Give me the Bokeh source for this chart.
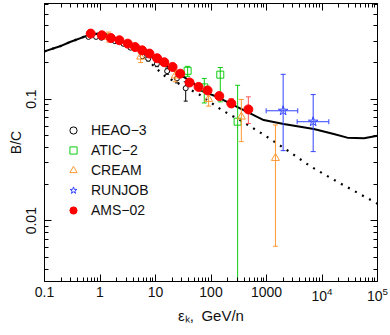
from bokeh.plotting import figure
from bokeh.models import (Range1d, LogAxis, FixedTicker, LogTickFormatter, Legend,
                          LegendItem, CustomJSTickFormatter)
from bokeh.embed import file_html
from bokeh.resources import INLINE

FONT = "Liberation Sans"

# ---- data ----
x_ticks = [0.1, 1, 10, 100, 1000, 1e4, 1e5]
y_ticks = [0.01, 0.1]
y_tick_labels = ["0.01", "0.1"]

# model curves
solid_E = [0.1, 0.19, 0.288, 0.5, 0.75, 1.0, 1.5, 2.65, 5.3, 10.6, 21.1, 48.5, 64, 128,
           387, 889, 2040, 7110, 16300, 28500, 56900, 1e5]
solid_v = [0.247, 0.272, 0.295, 0.324, 0.343, 0.346, 0.336, 0.295, 0.252, 0.209, 0.173,
           0.135, 0.118, 0.1045, 0.0812, 0.0673, 0.0624, 0.0568, 0.0517, 0.0482, 0.0476, 0.050]
dotted_E = [0.1, 0.19, 0.288, 0.5, 0.75, 1.0, 1.5, 2.65, 5.3, 7.5, 10, 15, 30, 60, 158,
            338, 890, 2355, 6190, 16300, 1e5]
dotted_v = [0.247, 0.272, 0.295, 0.324, 0.343, 0.346, 0.336, 0.29, 0.235, 0.207, 0.181,
            0.154, 0.13, 0.11, 0.081, 0.067, 0.051, 0.038, 0.028, 0.0217, 0.0138]

# HEAO-3
heao_E = [0.62, 0.85, 1.06, 1.85, 2.65, 3.54, 5.86, 7.4, 10.6, 16.2, 24.3, 35.0]
heao_v = [0.325, 0.325, 0.32, 0.30, 0.285, 0.265, 0.225, 0.215, 0.195, 0.17, 0.148, 0.123]
heao_lo = [0.318, 0.318, 0.313, 0.293, 0.277, 0.257, 0.217, 0.206, 0.185, 0.16, 0.136, 0.0963]
heao_hi = [0.332, 0.332, 0.327, 0.307, 0.293, 0.273, 0.233, 0.224, 0.205, 0.18, 0.160, 0.139]

# ATIC-2
atic_E = [37.9, 75.7, 147, 302]
atic_v = [0.171, 0.125, 0.159, 0.0652]
atic_lo = [0.154, 0.093, 0.095, 0.001]
atic_hi = [0.186, 0.148, 0.182, 0.130]

# CREAM
cream_E = [1.42, 5.4, 22.7, 90.6, 352, 1449]
cream_v = [0.324, 0.223, 0.156, 0.100, 0.0716, 0.0327]
cream_lo = [0.295, 0.200, 0.139, 0.0876, 0.0447, 0.00616]
cream_hi = [0.356, 0.238, 0.173, 0.112, 0.0994, 0.0613]

# RUNJOB
runjob_E = [1995, 6934]
runjob_v = [0.0802, 0.0652]
runjob_lo = [0.0377, 0.0370]
runjob_hi = [0.160, 0.109]
runjob_Elo = [985, 3567]
runjob_Ehi = [3656, 13270]

# AMS-02
ams_E = [0.68, 1.08, 1.57, 2.24, 3.17, 4.30, 5.75, 7.80, 10.7, 14.4, 20.3, 27.9, 41.1,
         59.7, 86.8, 141, 232, 471]
ams_v = [0.346, 0.335, 0.318, 0.305, 0.286, 0.268, 0.252, 0.237, 0.217, 0.201, 0.184,
         0.162, 0.137, 0.126, 0.118, 0.106, 0.0922, 0.0823]
ams_lo = [0.343, 0.332, 0.315, 0.302, 0.283, 0.265, 0.249, 0.234, 0.214, 0.198, 0.181,
          0.159, 0.134, 0.122, 0.113, 0.100, 0.0855, 0.063]
ams_hi = [0.349, 0.338, 0.321, 0.308, 0.289, 0.271, 0.255, 0.240, 0.220, 0.204, 0.187,
          0.165, 0.140, 0.130, 0.123, 0.112, 0.101, 0.1044]

legend_labels = ["HEAO\u22123", "ATIC\u22122", "CREAM", "RUNJOB", "AMS\u221202"]
x_label = "\u03b5\u2096,\u2002GeV/n"
y_label = "B/C"

# ---- figure ----
p = figure(frame_width=333, frame_height=278, x_axis_type="log", y_axis_type="log",
           x_range=Range1d(0.1, 1e5), y_range=Range1d(0.00316, 0.612),
           output_backend="svg", toolbar_location=None,
           min_border_left=44, min_border_right=13, min_border_top=3, min_border_bottom=54,
           background_fill_color="white", border_fill_color="white")
p.xgrid.visible = False
p.ygrid.visible = False
p.outline_line_color = "black"

x_minor = [m * d for d in [0.1, 1, 10, 100, 1000, 1e4] for m in range(2, 10)]
y_minor = [m * d for d in [0.001, 0.01, 0.1] for m in range(2, 10) if 0.00316 < m * d < 0.612]
xt = FixedTicker(ticks=x_ticks, minor_ticks=x_minor)
yt = FixedTicker(ticks=y_ticks, minor_ticks=y_minor)


def style_axis(ax, size="14px"):
    ax.major_tick_in = 7
    ax.major_tick_out = 0
    ax.minor_tick_in = 4
    ax.minor_tick_out = 0
    ax.axis_line_color = "black"
    ax.major_tick_line_color = "black"
    ax.minor_tick_line_color = "black"
    ax.major_label_text_font = FONT
    ax.major_label_text_color = "#111111"
    ax.major_label_text_font_size = size


def style_label(ax, text, standoff):
    ax.axis_label = text
    ax.axis_label_text_font = FONT
    ax.axis_label_text_font_size = "15px"
    ax.axis_label_text_font_style = "normal"
    ax.axis_label_text_color = "#111111"
    ax.axis_label_standoff = standoff


xa = p.xaxis[0]
xa.ticker = xt
xa.formatter = LogTickFormatter(min_exponent=3)
xa.major_label_overrides = {1000: "1000"}
style_axis(xa)
xa.major_label_standoff = 5
style_label(xa, x_label, 3)

ya = p.yaxis[0]
ya.ticker = yt
ya.major_label_overrides = {t: s for t, s in zip(y_ticks, y_tick_labels)}
style_axis(ya)
ya.major_label_orientation = "vertical"
ya.major_label_standoff = 8
style_label(ya, y_label, 0)
ya.axis_label_text_font_size = "14px"

blank = CustomJSTickFormatter(code="return ''")
top = LogAxis(ticker=xt, formatter=blank)
style_axis(top, "1px")
top.major_label_standoff = 0
p.add_layout(top, "above")
right = LogAxis(ticker=yt, formatter=blank)
style_axis(right, "1px")
right.major_label_standoff = 0
p.add_layout(right, "right")

# ---- curves ----
p.line(solid_E, solid_v, line_color="black", line_width=2)
p.line(dotted_E, dotted_v, line_color="black", line_width=2.2, line_dash="2 6")

GREEN = "#11cc11"
ORANGE = "#ff9933"
BLUE = "#3344ff"
RED = "#ff0000"


def vbars(E, lo, hi, color, cap=5):
    p.segment(x0=E, y0=lo, x1=E, y1=hi, line_color=color, line_width=1)
    p.scatter(E, lo, marker="dash", size=cap, line_color=color)
    p.scatter(E, hi, marker="dash", size=cap, line_color=color)


vbars(heao_E, heao_lo, heao_hi, "black", 4)
r_heao = p.scatter(heao_E, heao_v, marker="circle", size=5, fill_color="white",
                   line_color="black", line_width=1)

vbars(atic_E, atic_lo, atic_hi, GREEN)
r_atic = p.scatter(atic_E, atic_v, marker="square", size=7, fill_color=None,
                   line_color=GREEN, line_width=1)

vbars(cream_E, cream_lo, cream_hi, ORANGE)
r_cream = p.scatter(cream_E, cream_v, marker="triangle", size=8, fill_color=None,
                    line_color=ORANGE, line_width=1)

vbars(runjob_E, runjob_lo, runjob_hi, BLUE)
p.segment(x0=runjob_Elo, y0=runjob_v, x1=runjob_Ehi, y1=runjob_v, line_color=BLUE, line_width=1)
p.scatter(runjob_Elo, runjob_v, marker="dash", angle=1.5708, size=5, line_color=BLUE)
p.scatter(runjob_Ehi, runjob_v, marker="dash", angle=1.5708, size=5, line_color=BLUE)
r_runjob = p.scatter(runjob_E, runjob_v, marker="star", size=10, fill_color=None,
                     line_color=BLUE, line_width=1)

vbars(ams_E, ams_lo, ams_hi, "#ff5555")
r_ams = p.scatter(ams_E, ams_v, marker="circle", size=9, fill_color=RED,
                  line_color=RED)

legend = Legend(items=[LegendItem(label=l, renderers=[r]) for l, r in
                       zip(legend_labels, [r_heao, r_atic, r_cream, r_runjob, r_ams])],
                location=(19, 62), padding=0, margin=0, spacing=2,
                glyph_width=20, glyph_height=18, label_height=18, label_standoff=8,
                border_line_alpha=0, background_fill_alpha=0,
                label_text_font=FONT, label_text_font_size="14px",
                label_text_color="#111111")
p.add_layout(legend)

open("out.html", "w").write(file_html(p, INLINE))
